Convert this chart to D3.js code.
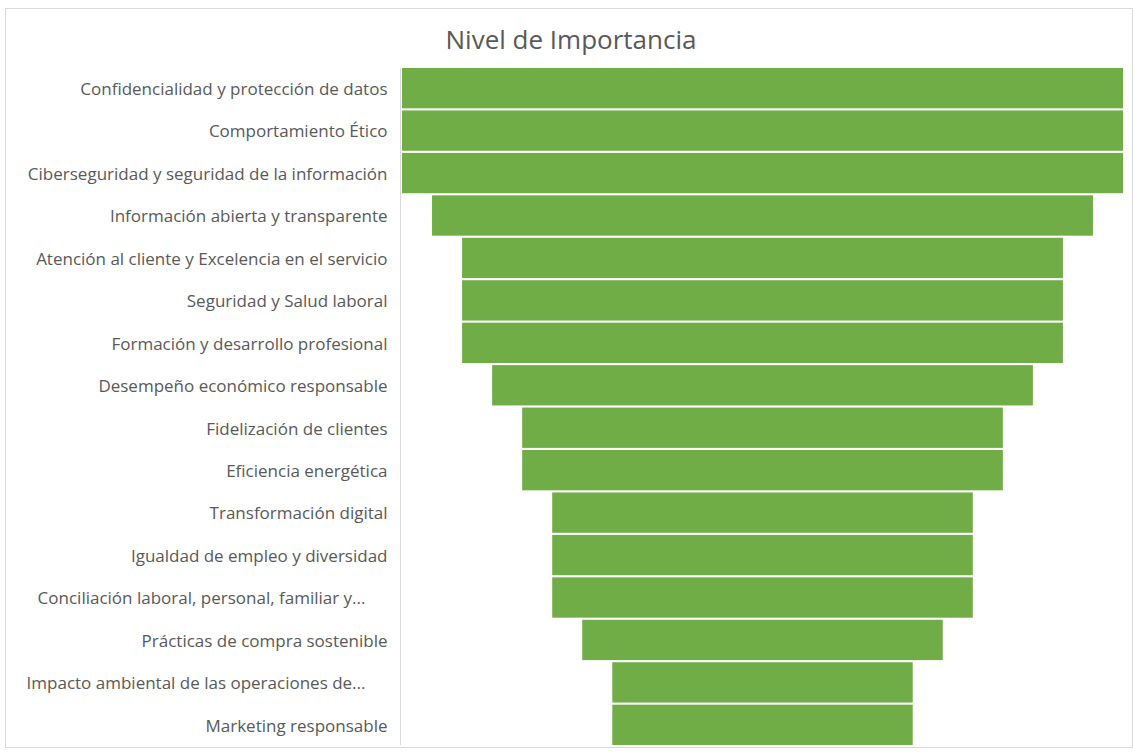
<!DOCTYPE html>
<html>
<head>
<meta charset="utf-8">
<script src="https://cdn.jsdelivr.net/npm/d3@7"></script>
<style>
  body { margin: 0; background: #fff; }
  svg { display: block; font-family: "Open Sans", sans-serif; }
</style>
</head>
<body>
<svg width="1134" height="754"></svg>
<script>
// categories, top to bottom
var categories = [
  "Confidencialidad y protección de datos",
  "Comportamiento Ético",
  "Ciberseguridad y seguridad de la información",
  "Información abierta y transparente",
  "Atención al cliente y Excelencia en el servicio",
  "Seguridad y Salud laboral",
  "Formación y desarrollo profesional",
  "Desempeño económico responsable",
  "Fidelización de clientes",
  "Eficiencia energética",
  "Transformación digital",
  "Igualdad de empleo y diversidad",
  "Conciliación laboral, personal, familiar y...",
  "Prácticas de compra sostenible",
  "Impacto ambiental de las operaciones de...",
  "Marketing responsable"
];
// nivel de importancia
var values = [12, 12, 12, 11, 10, 10, 10, 9, 8, 8, 7, 7, 7, 6, 5, 5];
var title = "Nivel de Importancia";

var svg = d3.select("svg");
var margin = {top: 68, right: 11, bottom: 8, left: 402},
    width = 1134 - margin.left - margin.right,
    height = 754 - margin.top - margin.bottom;

// chart frame
svg.append("rect")
  .attr("x", 5.5).attr("y", 8.5)
  .attr("width", 1127).attr("height", 739)
  .attr("fill", "#fff")
  .attr("stroke", "#d9d9d9");

svg.append("text")
  .attr("x", 571).attr("y", 49)
  .attr("text-anchor", "middle")
  .attr("font-size", 26)
  .attr("fill", "#595959")
  .text(title);

var data = categories.map(function(c, i) { return {name: c, value: values[i]}; });

var y = d3.scaleBand()
  .domain(categories)
  .range([0, 677])
  .paddingInner(0.05);

var w = d3.scaleLinear()
  .domain([0, d3.max(values)])
  .range([0, 721]);

var cx = 721 / 2;

var g = svg.append("g")
  .attr("transform", "translate(" + margin.left + "," + margin.top + ")");

g.selectAll("rect.bar")
  .data(data)
  .enter().append("rect")
  .attr("class", "bar")
  .attr("x", function(d) { return cx - w(d.value) / 2; })
  .attr("y", function(d) { return y(d.name); })
  .attr("width", function(d) { return w(d.value); })
  .attr("height", y.bandwidth())
  .attr("fill", "#70ad47");

// category axis
var axis = g.append("g")
  .attr("transform", "translate(-1.5,0)")
  .call(d3.axisLeft(y).tickSize(0).tickPadding(13));

axis.select(".domain").attr("stroke", "#d9d9d9").attr("d", "M0,0V677");
axis.selectAll("text")
  .attr("font-size", 17)
  .attr("font-family", "'Open Sans', sans-serif")
  .attr("fill", "#595959")
  .attr("dy", "0.4em")
  .attr("dx", function(d) { return /\.\.\.$/.test(d) ? -22 : 0; });
</script>
</body>
</html>
